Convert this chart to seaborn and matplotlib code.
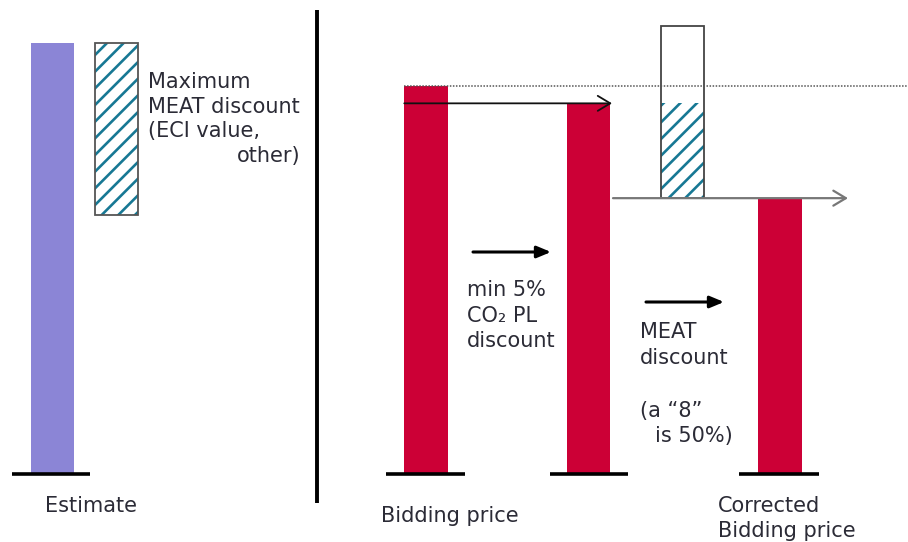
import matplotlib.pyplot as plt
import seaborn as sns
import pandas as pd
from matplotlib.patches import Rectangle

# price levels, estimate = 100
stages = ['Estimate', 'Bidding price', 'After CO2 PL discount', 'Corrected bidding price']
prices = [100, 90, 86, 64]
max_meat_discount = 40
bar_colors = ['#8b85d6', '#cc0036', '#cc0036', '#cc0036']

# layout (pixel positions on the 908x542 canvas)
bar_x = [52.5, 426, 588.5, 780]
bar_w = 43.5
base_spans = [(12, 90), (386, 465), (550, 628), (739, 819)]
meat_box_x = 116.5
ghost_box_x = 682.5
teal = '#177894'
txt = '#2b2b36'

sns.set_style('white')
plt.rcParams['font.family'] = ['DejaVu Sans']
plt.rcParams['hatch.linewidth'] = 1.9

fig = plt.figure(figsize=(9.08, 5.42), dpi=100)
ax = fig.add_axes([0, 0, 1, 1])

df = pd.DataFrame({'stage': stages, 'price': prices, 'x': bar_x})
sns.barplot(data=df, x='x', y='price', hue='stage', palette=dict(zip(stages, bar_colors)),
            native_scale=True, dodge=False, width=bar_w / 162.5, legend=False,
            errorbar=None, linewidth=0, saturation=1, ax=ax)

ax.set_xlim(0, 908)
ax.set_ylim(-68 / 4.31, 474 / 4.31)
ax.axis('off')

# baselines
for x0, x1 in base_spans:
    ax.hlines(0, x0, x1, color='black', lw=2.6, zorder=4)

# maximum MEAT discount box next to the estimate
est, bid, co2, corr = prices
ax.add_patch(Rectangle((meat_box_x - bar_w / 2, est - max_meat_discount), bar_w, max_meat_discount,
                       facecolor='white', edgecolor=teal, hatch='//', lw=0, zorder=3))
ax.add_patch(Rectangle((meat_box_x - bar_w / 2, est - max_meat_discount), bar_w, max_meat_discount,
                       fill=False, edgecolor='#555555', lw=1.3, zorder=4))

# MEAT box sitting on the corrected price, hatched up to the CO2 level
ax.add_patch(Rectangle((ghost_box_x - bar_w / 2, corr), bar_w, co2 - corr,
                       facecolor='white', edgecolor=teal, hatch='//', lw=0, zorder=3))
ax.add_patch(Rectangle((ghost_box_x - bar_w / 2, corr), bar_w, max_meat_discount,
                       fill=False, edgecolor='#444444', lw=1.3, zorder=4))

# dotted bidding level, price arrows
ax.hlines(bid, bar_x[1] - bar_w / 2, 908, color='#555555', lw=1.1, linestyle=(0, (1, 1)), zorder=5)
ax.annotate('', xy=(612, co2), xytext=(bar_x[1] - bar_w / 2, co2),
            arrowprops=dict(arrowstyle='->,head_length=0.5,head_width=0.3', lw=1.3, color='#111111',
                            mutation_scale=18, shrinkA=0, shrinkB=0), zorder=6)
ax.annotate('', xy=(848, corr), xytext=(613, corr),
            arrowprops=dict(arrowstyle='->,head_length=0.5,head_width=0.3', lw=1.6, color='#777777',
                            mutation_scale=18, shrinkA=0, shrinkB=0), zorder=6)

# overlay in pixel coords for divider, notes and labels
ov = fig.add_axes([0, 0, 1, 1], facecolor='none')
ov.set_xlim(0, 908)
ov.set_ylim(542, 0)
ov.axis('off')

ov.vlines(317, 10, 503, color='black', lw=2.8)

for x0, x1, y in [(473, 551, 252), (646, 724, 302)]:
    ov.annotate('', xy=(x1, y), xytext=(x0, y),
                arrowprops=dict(arrowstyle='-|>,head_length=0.6,head_width=0.25', lw=2.2,
                                color='black', mutation_scale=14, shrinkA=0, shrinkB=0))

notes = [
    (148, 88, 'Maximum', 'left'),
    (148, 113, 'MEAT discount', 'left'),
    (148, 137, '(ECI value,', 'left'),
    (301, 162, 'other)', 'right'),
    (467, 296, 'min 5%', 'left'),
    (467, 322, 'CO₂ PL', 'left'),
    (467, 347, 'discount', 'left'),
    (640, 338, 'MEAT', 'left'),
    (640, 364, 'discount', 'left'),
    (640, 417, '(a “8”', 'left'),
    (655, 442, 'is 50%)', 'left'),
]
for x, y, s, ha in notes:
    ov.text(x, y, s, ha=ha, va='baseline', fontsize=15, color=txt)

labels = [
    (45, 512, 'Estimate'),
    (381, 522, 'Bidding price'),
    (718, 512, 'Corrected'),
    (718, 537, 'Bidding price'),
]
for x, y, s in labels:
    ov.text(x, y, s, ha='left', va='baseline', fontsize=15, color=txt)

plt.savefig('out.png', dpi=100)
